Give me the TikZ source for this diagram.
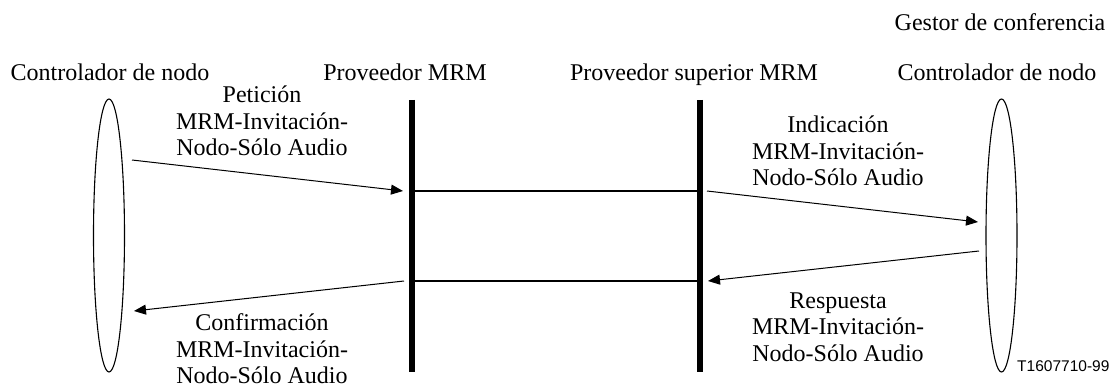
\documentclass[tikz,border=0pt]{standalone}
\usepackage{fontspec}
\setmainfont{Liberation Serif}
\newfontfamily\sansf{Liberation Sans}
\usetikzlibrary{shapes.geometric,arrows.meta}
\begin{document}
\begin{tikzpicture}[x=1pt,y=-1pt,
  lbl/.style={font=\fontsize{24}{26.5}\selectfont, align=center, inner sep=0pt},
  ttl/.style={lbl, anchor=base},
  entity/.style={draw, ellipse, line width=1.1pt, minimum width=31pt, minimum height=273pt, inner sep=0pt},
  bar/.style={line width=6.5pt},
  link/.style={line width=2pt},
  msg/.style={line width=1pt, -{Triangle[length=12pt,width=10pt]}}]
\useasboundingbox (0,0) rectangle (1114,387);
% entities
\node[entity] (L) at (109,235.5) {};
\node[entity] (R) at (1001.5,235.5) {};
% bars
\coordinate (b1t) at (412,100);
\coordinate (b1b) at (412,372);
\coordinate (b2t) at (700,100);
\coordinate (b2b) at (700,372);
\draw[bar] (b1t) -- (b1b);
\draw[bar] (b2t) -- (b2b);
% links between bars
\coordinate (h1a) at (412,191);
\coordinate (h1b) at (700,191);
\coordinate (h2a) at (412,281);
\coordinate (h2b) at (700,281);
\draw[link] (h1a) -- (h1b);
\draw[link] (h2a) -- (h2b);
% arrow end points
\coordinate (a1s) at (132,160);
\coordinate (a1e) at (403,191);
\coordinate (a2s) at (404,281);
\coordinate (a2e) at (134,311);
\coordinate (a3s) at (707,191);
\coordinate (a3e) at (978,222);
\coordinate (a4s) at (979,251);
\coordinate (a4e) at (708,281);
\draw[msg] (a1s) -- (a1e);
\draw[msg] (a2s) -- (a2e);
\draw[msg] (a3s) -- (a3e);
\draw[msg] (a4s) -- (a4e);
% titles
\node[ttl] (tg) at (1000,31) {Gestor de conferencia};
\node[ttl] (tl) at (110,81) {Controlador de nodo};
\node[ttl] (tp) at (405,81) {Proveedor MRM};
\node[ttl] (ts) at (694,81) {Proveedor superior MRM};
\node[ttl] (tr) at (997,81) {Controlador de nodo};
% message labels
\node[lbl] (m1) at (262,121) {Petición\\MRM-Invitación-\\Nodo-Sólo Audio};
\node[lbl] (m2) at (262,349) {Confirmación\\MRM-Invitación-\\Nodo-Sólo Audio};
\node[lbl] (m3) at (838,151) {Indicación\\MRM-Invitación-\\Nodo-Sólo Audio};
\node[lbl] (m4) at (838,327) {Respuesta\\MRM-Invitación-\\Nodo-Sólo Audio};
% figure id
\node[font=\sansf\fontsize{15.5}{17}\selectfont, inner sep=0pt, anchor=west] (id) at (1017,366) {T1607710-99};
\end{tikzpicture}
\end{document}
